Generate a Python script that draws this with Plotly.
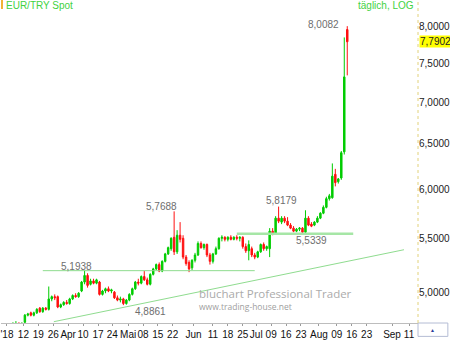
import numpy as np
import plotly.graph_objects as go

# ---------------- data ----------------
open_ = [4.71,4.72,4.73,4.71,4.74,4.80,4.82,4.80,4.82,4.86,4.83,4.86,4.85,4.94,4.96,4.96,4.87,4.89,4.91,4.90,
         4.94,4.97,4.96,5.01,5.09,5.15,5.07,5.10,5.08,5.09,4.98,5.01,5.03,5.01,5.00,4.95,4.93,4.94,4.90,4.93,
         4.98,5.03,5.09,5.08,5.14,5.11,5.07,5.16,5.21,5.25,5.19,5.28,5.35,5.40,5.51,5.37,5.53,5.50,5.32,5.27,
         5.22,5.29,5.34,5.45,5.41,5.44,5.34,5.28,5.35,5.40,5.50,5.51,5.49,5.51,5.49,5.51,5.50,5.51,5.42,5.38,
         5.40,5.34,5.32,5.37,5.44,5.40,5.40,5.57,5.55,5.70,5.66,5.70,5.67,5.63,5.60,5.57,5.59,5.60,5.56,5.70,
         5.64,5.63,5.66,5.70,5.75,5.81,5.90,5.91,6.16,6.08,6.12,6.41,7.96]
high = [4.74,4.75,4.74,4.74,4.81,4.82,4.83,4.83,4.86,4.87,4.87,4.87,5.05,4.97,4.98,4.97,4.90,4.92,4.93,4.95,
        4.98,4.99,5.00,5.10,5.1938,5.17,5.12,5.12,5.12,5.10,5.02,5.04,5.05,5.03,5.01,4.97,4.96,4.95,4.94,4.99,
        5.04,5.10,5.12,5.15,5.19,5.13,5.17,5.22,5.26,5.27,5.29,5.36,5.42,5.51,5.7688,5.58,5.66,5.53,5.34,5.29,
        5.30,5.36,5.47,5.47,5.45,5.45,5.36,5.36,5.42,5.51,5.53,5.52,5.52,5.53,5.52,5.53,5.52,5.52,5.45,5.48,
        5.42,5.36,5.38,5.45,5.46,5.43,5.60,5.60,5.72,5.8179,5.72,5.72,5.71,5.65,5.62,5.60,5.61,5.61,5.78,5.72,
        5.66,5.67,5.72,5.76,5.83,5.92,5.95,6.28,6.22,6.12,6.42,7.85,8.0082]
low = [4.69,4.70,4.70,4.70,4.72,4.79,4.79,4.79,4.81,4.82,4.82,4.84,4.84,4.92,4.93,4.86,4.86,4.88,4.89,4.89,
       4.93,4.95,4.95,5.00,5.07,5.04,5.06,5.07,5.07,4.97,4.97,4.99,5.00,4.99,4.94,4.92,4.91,4.8861,4.89,4.92,
       4.97,5.02,5.06,5.07,5.10,5.06,5.06,5.15,5.20,5.18,5.18,5.27,5.34,5.38,5.34,5.35,5.46,5.30,5.24,5.18,
       5.20,5.27,5.33,5.40,5.39,5.32,5.25,5.26,5.34,5.39,5.47,5.47,5.47,5.48,5.48,5.48,5.47,5.40,5.36,5.29,
       5.32,5.30,5.31,5.36,5.38,5.38,5.32,5.53,5.54,5.65,5.64,5.65,5.62,5.59,5.56,5.56,5.57,5.5339,5.55,5.62,
       5.61,5.62,5.65,5.69,5.74,5.80,5.88,5.90,6.03,6.06,6.10,6.38,7.34]
close = [4.72,4.73,4.71,4.73,4.80,4.81,4.80,4.82,4.85,4.83,4.86,4.85,4.94,4.96,4.95,4.87,4.89,4.91,4.90,4.94,
         4.97,4.96,4.99,5.09,5.15,5.06,5.10,5.08,5.11,4.98,5.01,5.03,5.01,5.02,4.95,4.93,4.94,4.90,4.93,4.98,
         5.03,5.09,5.08,5.14,5.11,5.07,5.16,5.21,5.25,5.19,5.28,5.35,5.41,5.50,5.37,5.53,5.49,5.32,5.26,5.21,
         5.29,5.34,5.45,5.41,5.44,5.34,5.28,5.35,5.40,5.50,5.51,5.49,5.51,5.49,5.51,5.50,5.51,5.42,5.38,5.44,
         5.34,5.32,5.37,5.44,5.40,5.42,5.57,5.55,5.70,5.67,5.70,5.67,5.63,5.60,5.57,5.59,5.60,5.56,5.70,5.63,
         5.62,5.66,5.70,5.75,5.81,5.90,5.93,6.14,6.07,6.11,6.40,7.32,7.7902]
days = list(range(len(close)))  # trading-day index

tick_days = [-2, 3.5, 8.5, 13.5, 18.5, 23.5, 28.5, 33.3, 38.6, 43.6, 48.5, 53.5, 60.5, 67, 72, 77,
             81.5, 86.5, 91.5, 96.5, 102.5, 108.5, 113.5, 118.5, 127, 132.7]
tick_text = ["'18", "12", "19", "26", "Apr", "10", "17", "24", "Mai", "08", "15", "22", "Jun", "11", "18", "25",
             "Jul", "09", "16", "23", "Aug", "09", "16", "23", "Sep", "11"]

y_ticks = [5.0, 5.5, 6.0, 6.5, 7.0, 7.5, 8.0]

level1_days = [10, 81]
level1_value = 5.1938
level2_days = [75, 114]
level2_value = 5.545
trend_days = [13.7, 131]
trend_values = [4.745, 5.39]

# marked extremes: (day index, value)
marks_days = [24, 37, 54, 89, 97, 112]
marks_vals = [5.1938, 4.8861, 5.7688, 5.8179, 5.5339, 8.0082]

last_close = close[-1]


def fmt(v):
    return f"{v:.4f}".replace(".", ",")


# ---------------- figure ----------------
fig = go.Figure()

light_green = "#8fdc8f"
fig.add_trace(go.Scatter(x=level1_days, y=[level1_value] * 2, mode="lines",
                         line=dict(color=light_green, width=1), hoverinfo="skip", showlegend=False))
fig.add_trace(go.Scatter(x=level2_days, y=[level2_value] * 2, mode="lines",
                         line=dict(color="#a6e6a6", width=2.5), hoverinfo="skip", showlegend=False))
fig.add_trace(go.Scatter(x=trend_days, y=trend_values, mode="lines",
                         line=dict(color=light_green, width=1), hoverinfo="skip", showlegend=False))

fig.add_trace(go.Candlestick(
    x=days, open=open_, high=high, low=low, close=close,
    increasing=dict(line=dict(color="#00cc00", width=1), fillcolor="#00cc00"),
    decreasing=dict(line=dict(color="#ff1010", width=1), fillcolor="#ff1010"),
    whiskerwidth=0, showlegend=False, hoverinfo="skip"))

annotations = []
# offsets (pixels) of each value label relative to its candle
offsets = [(-8, 4), (27, -6), (-13, 5), (3, 6), (9, -6), (-24, 2)]
for d, v, (dx, dy) in zip(marks_days, marks_vals, offsets):
    annotations.append(dict(x=d, y=np.log10(v), xref="x", yref="y", text=fmt(v), showarrow=False,
                            xshift=dx, yshift=dy, xanchor="center", yanchor="middle",
                            font=dict(family="Liberation Sans, Arial", size=10, color="#6e6e6e")))

# current price label
annotations.append(dict(x=1, y=np.log10(last_close), xref="paper", yref="y", text=fmt(last_close),
                        showarrow=False, xanchor="left", yanchor="middle", xshift=1,
                        bgcolor="#ffff00", borderpad=0,
                        font=dict(family="Liberation Sans, Arial", size=10, color="#222222")))
# titles
annotations.append(dict(x=0, y=1, xref="paper", yref="paper", text="EUR/TRY Spot", showarrow=False,
                        xanchor="left", yanchor="top", xshift=3, yshift=2,
                        font=dict(family="Liberation Sans, Arial", size=10, color="#3fd23f")))
annotations.append(dict(x=1, y=1, xref="paper", yref="paper", text="täglich, LOG", showarrow=False,
                        xanchor="right", yanchor="top", xshift=-2, yshift=2,
                        font=dict(family="Liberation Sans, Arial", size=10, color="#3fd23f")))
# watermark
annotations.append(dict(x=197 / 419, y=1 - 296 / 326, xref="paper", yref="paper",
                        text="bluchart Professional Trader", showarrow=False,
                        xanchor="left", yanchor="middle",
                        font=dict(family="Open Sans", size=11.5, color="#ababab")))
annotations.append(dict(x=197 / 419, y=1 - 309 / 326, xref="paper", yref="paper",
                        text="www.trading-house.net", showarrow=False,
                        xanchor="left", yanchor="middle",
                        font=dict(family="Open Sans", size=8.5, color="#a0a0a0")))
# corner widget
annotations.append(dict(x=1 + 15 / 419, y=-7 / 326, xref="paper", yref="paper", text="▲",
                        showarrow=False, xanchor="center", yanchor="middle",
                        font=dict(size=5, color="#2a3a9a")))

shapes = [
    dict(type="line", xref="paper", yref="paper", x0=1, x1=1, y0=0, y1=1,
         line=dict(color="#e2d27a", width=1, dash="dot")),
    dict(type="rect", xref="paper", yref="paper", x0=0, x1=2 / 419, y0=1 - 9 / 326, y1=1,
         line=dict(width=0), fillcolor="#f2b233"),
    dict(type="rect", xref="paper", yref="paper", x0=1, x1=449 / 419, y0=-13.5 / 326, y1=0,
         line=dict(color="#b4bcd4", width=1), fillcolor="#ffffff", layer="below"),
]

fig.update_layout(
    width=450, height=340,
    margin=dict(l=0, r=31, t=0, b=14),
    paper_bgcolor="white", plot_bgcolor="white",
    annotations=annotations, shapes=shapes,
    xaxis=dict(range=[-4, 135.7], tickvals=tick_days, ticktext=tick_text, tickangle=0,
               ticklabeloverflow="allow",
               showgrid=False, zeroline=False, showline=True, linecolor="#bdbdbd",
               ticks="outside", ticklen=2, tickcolor="#9a9a9a",
               tickfont=dict(family="Liberation Sans, Arial", size=10, color="#111111"),
               rangeslider=dict(visible=False)),
    yaxis=dict(type="log", side="right", range=[np.log10(4.734), np.log10(8.388)],
               tickvals=y_ticks, ticktext=[fmt(v) for v in y_ticks],
               showgrid=False, zeroline=False, showline=False, ticks="",
               ticklabeloverflow="allow",
               tickfont=dict(family="Liberation Sans, Arial", size=10, color="#222222")),
)

fig.write_html("out.html")
